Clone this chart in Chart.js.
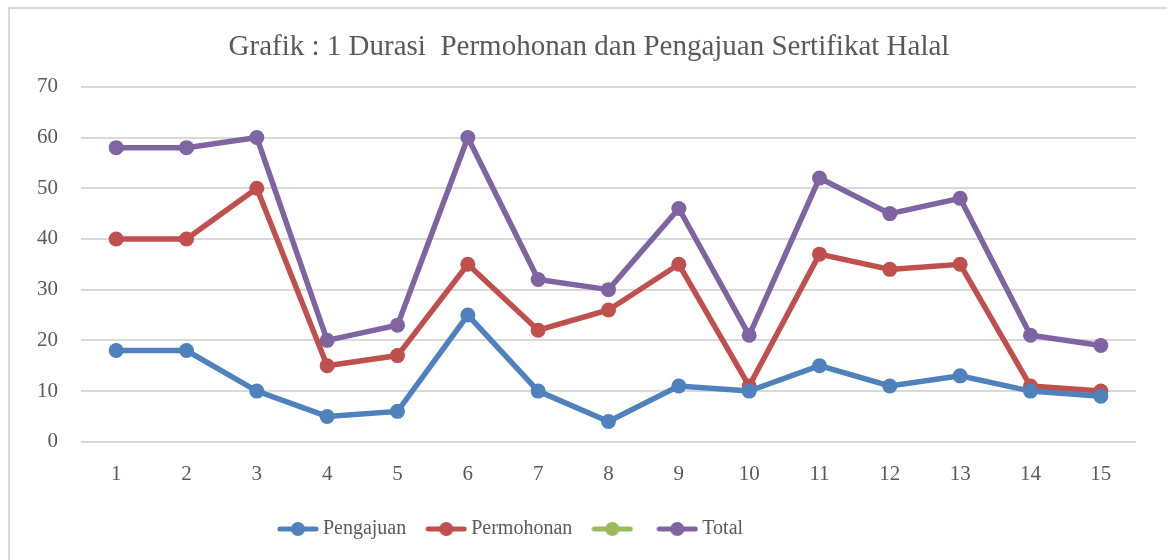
<!DOCTYPE html>
<html>
<head>
<meta charset="utf-8">
<script src="https://cdn.jsdelivr.net/npm/chart.js@4.4.1/dist/chart.umd.min.js"></script>
<style>
  html, body { margin: 0; padding: 0; background: #fff; }
  .wrap { position: relative; width: 1167px; height: 560px; }
</style>
</head>
<body>
<div class="wrap"><canvas id="grafik" width="1167" height="560"></canvas></div>
<script>
// data
const kategori = ['1','2','3','4','5','6','7','8','9','10','11','12','13','14','15'];
const pengajuan = [18, 18, 10, 5, 6, 25, 10, 4, 11, 10, 15, 11, 13, 10, 9];
const permohonan = [40, 40, 50, 15, 17, 35, 22, 26, 35, 11, 37, 34, 35, 11, 10];
const kosong = [];
const total = [58, 58, 60, 20, 23, 60, 32, 30, 46, 21, 52, 45, 48, 21, 19];
const yTicks = [0, 10, 20, 30, 40, 50, 60, 70];

const biru = '#4F81BD', merah = '#C0504D', hijau = '#9BBB59', ungu = '#8064A2';
const abu = '#595959', garis = '#D9D9D9';
const serif = "'Liberation Serif', 'Times New Roman', serif";

// ikon legenda: garis + titik
function ikon(warna) {
  const c = document.createElement('canvas');
  c.width = 42; c.height = 16;
  const g = c.getContext('2d');
  g.strokeStyle = warna; g.lineWidth = 5; g.lineCap = 'round';
  g.beginPath(); g.moveTo(3, 8); g.lineTo(39, 8); g.stroke();
  g.fillStyle = warna;
  g.beginPath(); g.arc(21, 8, 7, 0, Math.PI * 2); g.fill();
  return c;
}

function seri(label, data, warna) {
  return {
    label: label,
    data: data,
    borderColor: warna,
    backgroundColor: warna,
    borderWidth: 5.5,
    pointRadius: 7.5,
    pointHoverRadius: 7.5,
    pointBackgroundColor: warna,
    pointBorderWidth: 0,
    tension: 0,
    ikon: ikon(warna)
  };
}

const bingkai = {
  id: 'bingkai',
  afterLayout(chart) {
    // legenda agak ke kiri, judul agak ke kanan seperti aslinya
    chart.legend.left -= 55;
    chart.legend.right -= 55;
    chart.titleBlock.left += 21;
    chart.titleBlock.right += 21;
  },
  beforeDraw(chart) {
    const ctx = chart.ctx;
    ctx.save();
    ctx.strokeStyle = garis;
    ctx.lineWidth = 2;
    ctx.beginPath();
    ctx.moveTo(9, 600); ctx.lineTo(9, 8); ctx.lineTo(1200, 8);
    ctx.stroke();
    ctx.restore();
  }
};

new Chart(document.getElementById('grafik'), {
  type: 'line',
  data: {
    labels: kategori,
    datasets: [
      seri('Pengajuan', pengajuan, biru),
      seri('Permohonan', permohonan, merah),
      seri('', kosong, hijau),
      seri('Total', total, ungu)
    ]
  },
  plugins: [bingkai],
  options: {
    responsive: false,
    animation: false,
    devicePixelRatio: 1,
    layout: { padding: { left: 0, right: 31, top: 0, bottom: 11 } },
    plugins: {
      title: {
        display: true,
        text: 'Grafik : 1 Durasi  Permohonan dan Pengajuan Sertifikat Halal',
        color: abu,
        font: { family: serif, size: 29, weight: 'normal' },
        padding: { top: 30, bottom: 22 }
      },
      legend: {
        position: 'bottom',
        labels: {
          color: abu,
          font: { family: serif, size: 20 },
          usePointStyle: true,
          pointStyleWidth: 30,
          boxHeight: 16,
          padding: 25,
          generateLabels(chart) {
            return chart.data.datasets.map((d, i) => ({
              text: d.label,
              fillStyle: d.borderColor,
              strokeStyle: d.borderColor,
              fontColor: abu,
              pointStyle: d.ikon,
              lineWidth: 0,
              hidden: false,
              datasetIndex: i
            }));
          }
        }
      },
      tooltip: { enabled: false }
    },
    scales: {
      x: {
        offset: true,
        afterFit(axis) { axis.height -= 13; },
        grid: { display: false, drawTicks: false },
        border: { display: false },
        ticks: { color: abu, font: { family: serif, size: 21 }, padding: 20 }
      },
      y: {
        min: 0,
        max: 70,
        afterBuildTicks(axis) { axis.ticks = yTicks.map(v => ({ value: v })); },
        afterFit(axis) { axis.width = 81; },
        grid: { color: garis, lineWidth: 2, drawTicks: false },
        border: { display: false },
        ticks: { color: abu, font: { family: serif, size: 21 }, padding: 23 }
      }
    }
  }
});
</script>
</body>
</html>
